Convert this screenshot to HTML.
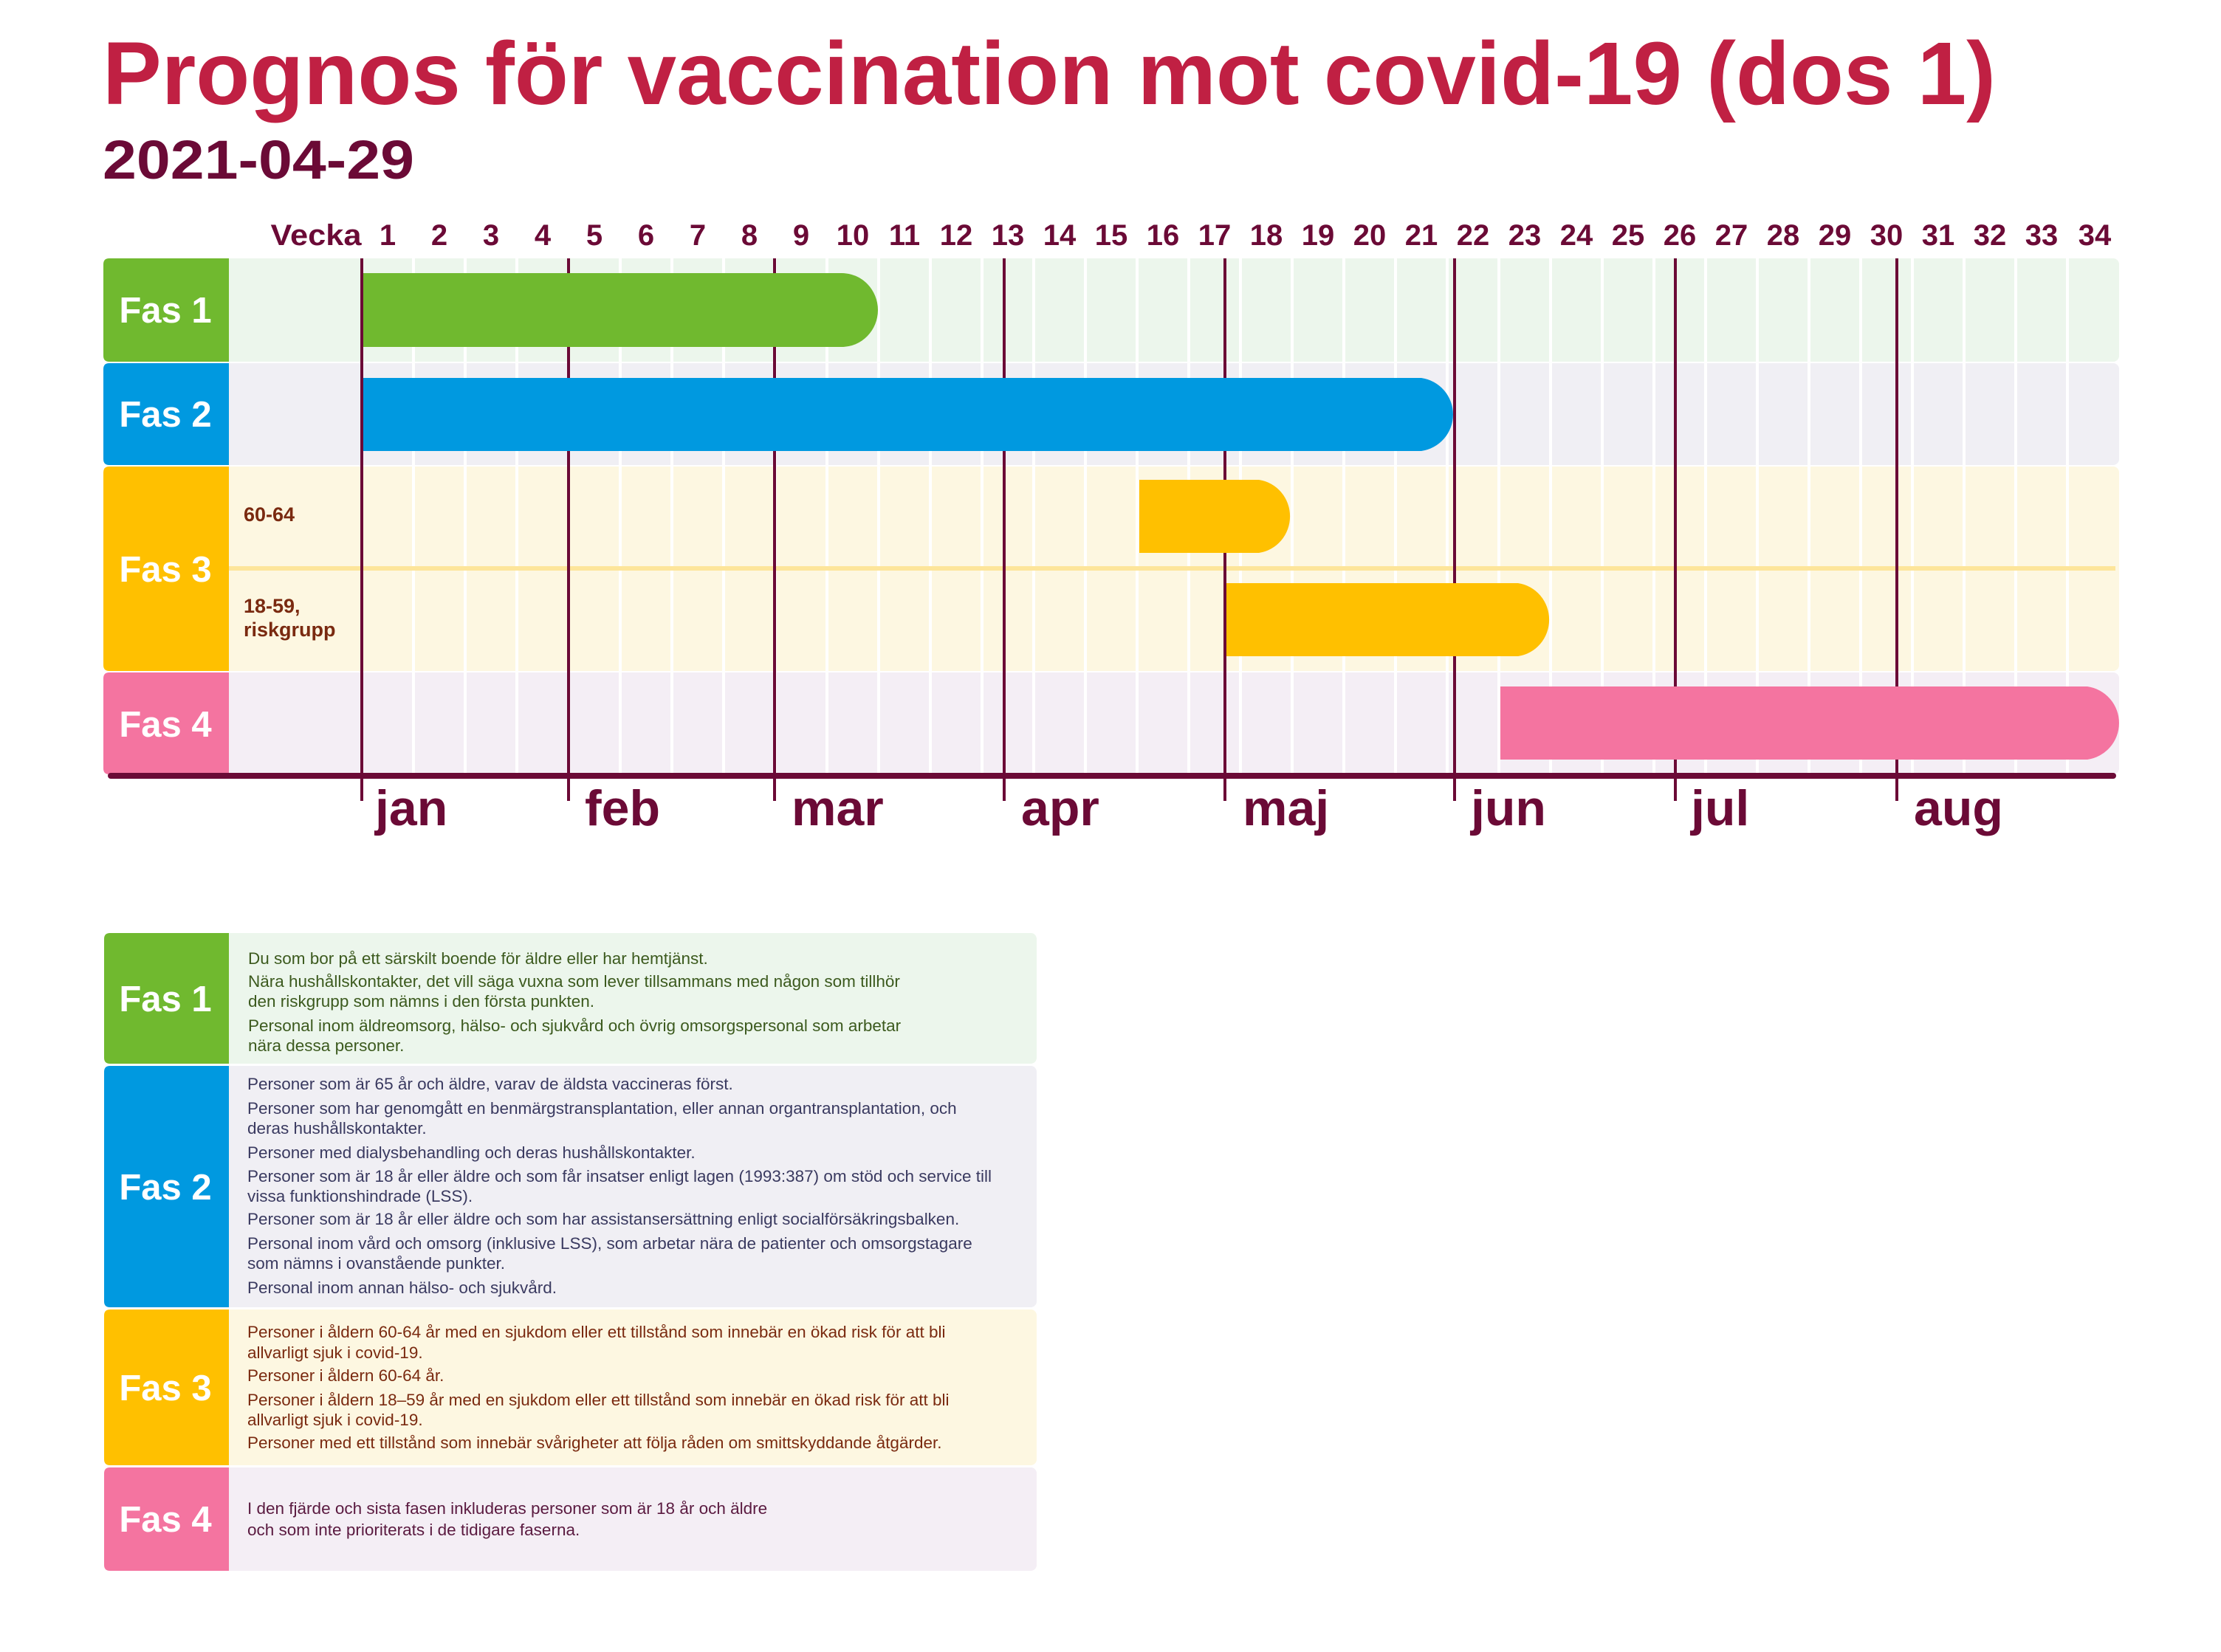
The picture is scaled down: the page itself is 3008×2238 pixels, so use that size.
<!DOCTYPE html>
<html><head><meta charset="utf-8"><style>
html,body{margin:0;padding:0;background:#fff;}
svg{display:block;}
</style></head><body>
<svg xmlns="http://www.w3.org/2000/svg" width="3008" height="2238" viewBox="0 0 3008 2238" font-family="Liberation Sans, sans-serif">
<rect width="3008" height="2238" fill="#fff"/>
<text x="139" y="141" font-size="121" font-weight="bold" fill="#c02043" textLength="2564" lengthAdjust="spacingAndGlyphs">Prognos för vaccination mot covid-19 (dos 1)</text>
<text x="139" y="242" font-size="74" font-weight="bold" fill="#6b0a36" textLength="422" lengthAdjust="spacingAndGlyphs">2021-04-29</text>

<g font-size="40" font-weight="bold" fill="#6b0a36" text-anchor="middle">
<text x="428" y="332" textLength="123" lengthAdjust="spacingAndGlyphs">Vecka</text>
<text x="525" y="332">1</text><text x="595" y="332">2</text><text x="665" y="332">3</text><text x="735" y="332">4</text><text x="805" y="332">5</text><text x="875" y="332">6</text><text x="945" y="332">7</text><text x="1015" y="332">8</text><text x="1085" y="332">9</text><text x="1155" y="332">10</text><text x="1225" y="332">11</text><text x="1295" y="332">12</text><text x="1365" y="332">13</text><text x="1435" y="332">14</text><text x="1505" y="332">15</text><text x="1575" y="332">16</text><text x="1645" y="332">17</text><text x="1715" y="332">18</text><text x="1785" y="332">19</text><text x="1855" y="332">20</text><text x="1925" y="332">21</text><text x="1995" y="332">22</text><text x="2065" y="332">23</text><text x="2135" y="332">24</text><text x="2205" y="332">25</text><text x="2275" y="332">26</text><text x="2345" y="332">27</text><text x="2415" y="332">28</text><text x="2485" y="332">29</text><text x="2555" y="332">30</text><text x="2625" y="332">31</text><text x="2695" y="332">32</text><text x="2765" y="332">33</text><text x="2837" y="332">34</text>
</g>

<rect x="140" y="350" width="2730" height="140" rx="8" fill="#ecf6ec"/>
<rect x="140" y="492" width="2730" height="138" rx="8" fill="#f0eff4"/>
<rect x="140" y="632" width="2730" height="277" rx="8" fill="#fdf7e1"/>
<rect x="140" y="911" width="2730" height="138" rx="8" fill="#f4eef5"/>

<g fill="#ffffff">
<rect x="558" y="350" width="4" height="699"/><rect x="628" y="350" width="4" height="699"/><rect x="698" y="350" width="4" height="699"/><rect x="768" y="350" width="4" height="699"/><rect x="838" y="350" width="4" height="699"/><rect x="908" y="350" width="4" height="699"/><rect x="978" y="350" width="4" height="699"/><rect x="1048" y="350" width="4" height="699"/><rect x="1118" y="350" width="4" height="699"/><rect x="1188" y="350" width="4" height="699"/><rect x="1258" y="350" width="4" height="699"/><rect x="1328" y="350" width="4" height="699"/><rect x="1398" y="350" width="4" height="699"/><rect x="1468" y="350" width="4" height="699"/><rect x="1538" y="350" width="4" height="699"/><rect x="1608" y="350" width="4" height="699"/><rect x="1678" y="350" width="4" height="699"/><rect x="1748" y="350" width="4" height="699"/><rect x="1818" y="350" width="4" height="699"/><rect x="1888" y="350" width="4" height="699"/><rect x="1958" y="350" width="4" height="699"/><rect x="2028" y="350" width="4" height="699"/><rect x="2098" y="350" width="4" height="699"/><rect x="2168" y="350" width="4" height="699"/><rect x="2238" y="350" width="4" height="699"/><rect x="2308" y="350" width="4" height="699"/><rect x="2378" y="350" width="4" height="699"/><rect x="2448" y="350" width="4" height="699"/><rect x="2518" y="350" width="4" height="699"/><rect x="2588" y="350" width="4" height="699"/><rect x="2658" y="350" width="4" height="699"/><rect x="2728" y="350" width="4" height="699"/><rect x="2798" y="350" width="4" height="699"/>
</g>
<rect x="310" y="767" width="2555" height="6" fill="#fde59a"/>

<path d="M148 350 H310 V490 H148 Q140 490 140 482 V358 Q140 350 148 350Z" fill="#70b92f"/>
<path d="M148 492 H310 V630 H148 Q140 630 140 622 V500 Q140 492 148 492Z" fill="#0099e0"/>
<path d="M148 632 H310 V909 H148 Q140 909 140 901 V640 Q140 632 148 632Z" fill="#ffc000"/>
<path d="M148 911 H310 V1049 H148 Q140 1049 140 1041 V919 Q140 911 148 911Z" fill="#f474a0"/>
<g font-size="49" font-weight="bold" fill="#fff" text-anchor="middle">
<text x="224" y="437">Fas 1</text>
<text x="224" y="578">Fas 2</text>
<text x="224" y="788">Fas 3</text>
<text x="224" y="998">Fas 4</text>
</g>
<g font-size="27" font-weight="bold" fill="#7a2a10">
<text x="330" y="706">60-64</text>
<text x="330" y="830">18-59,</text>
<text x="330" y="862">riskgrupp</text>
</g>

<g fill="#6b0a36">
<rect x="488" y="350" width="4" height="735"/>
<rect x="768" y="350" width="4" height="735"/>
<rect x="1047" y="350" width="4" height="735"/>
<rect x="1358" y="350" width="4" height="735"/>
<rect x="1657" y="350" width="4" height="735"/>
<rect x="1968" y="350" width="4" height="735"/>
<rect x="2267" y="350" width="4" height="735"/>
<rect x="2567" y="350" width="4" height="735"/>
</g>

<path d="M492 370 H1140 A49 50 0 0 1 1140 470 H492Z" fill="#70b92f"/>
<path d="M492 512 H1925 A50 50 0 0 1 1925 611 H492Z" fill="#0099e0"/>
<path d="M1543 650 H1705 A49 50 0 0 1 1705 749 H1543Z" fill="#ffc000"/>
<path d="M1661 790 H2056 A49 50 0 0 1 2056 889 H1661Z" fill="#ffc000"/>
<path d="M2032 930 H2827 A50 50 0 0 1 2827 1029 H2032Z" fill="#f474a0"/>

<rect x="146" y="1047" width="2720" height="8" rx="4" fill="#6b0a36"/>
<g font-size="68" font-weight="bold" fill="#6b0a36">
<text x="508" y="1118">jan</text>
<text x="792" y="1118">feb</text>
<text x="1072" y="1118">mar</text>
<text x="1383" y="1118">apr</text>
<text x="1683" y="1118">maj</text>
<text x="1992" y="1118">jun</text>
<text x="2290" y="1118">jul</text>
<text x="2592" y="1118">aug</text>
</g>

<rect x="141" y="1264" width="1263" height="177" rx="8" fill="#ecf6ec"/>
<rect x="141" y="1444" width="1263" height="327" rx="8" fill="#f0eff4"/>
<rect x="141" y="1774" width="1263" height="211" rx="8" fill="#fdf7e1"/>
<rect x="141" y="1988" width="1263" height="140" rx="8" fill="#f4eef5"/>
<path d="M149 1264 H310 V1441 H149 Q141 1441 141 1433 V1272 Q141 1264 149 1264Z" fill="#70b92f"/>
<path d="M149 1444 H310 V1771 H149 Q141 1771 141 1763 V1452 Q141 1444 149 1444Z" fill="#0099e0"/>
<path d="M149 1774 H310 V1985 H149 Q141 1985 141 1977 V1782 Q141 1774 149 1774Z" fill="#ffc000"/>
<path d="M149 1988 H310 V2128 H149 Q141 2128 141 2120 V1996 Q141 1988 149 1988Z" fill="#f474a0"/>
<g font-size="49" font-weight="bold" fill="#fff" text-anchor="middle">
<text x="224" y="1370">Fas 1</text>
<text x="224" y="1625">Fas 2</text>
<text x="224" y="1897">Fas 3</text>
<text x="224" y="2075">Fas 4</text>
</g>
<g font-size="22.5" fill="#3c5a1e">
<text x="336" y="1306">Du som bor på ett särskilt boende för äldre eller har hemtjänst.</text>
<text x="336" y="1337">Nära hushållskontakter, det vill säga vuxna som lever tillsammans med någon som tillhör</text>
<text x="336" y="1364">den riskgrupp som nämns i den första punkten.</text>
<text x="336" y="1397">Personal inom äldreomsorg, hälso- och sjukvård och övrig omsorgspersonal som arbetar</text>
<text x="336" y="1424">nära dessa personer.</text>
</g>
<g font-size="22.5" fill="#3a3a60">
<text x="335" y="1476">Personer som är 65 år och äldre, varav de äldsta vaccineras först.</text>
<text x="335" y="1509">Personer som har genomgått en benmärgstransplantation, eller annan organtransplantation, och</text>
<text x="335" y="1536">deras hushållskontakter.</text>
<text x="335" y="1569">Personer med dialysbehandling och deras hushållskontakter.</text>
<text x="335" y="1601">Personer som är 18 år eller äldre och som får insatser enligt lagen (1993:387) om stöd och service till</text>
<text x="335" y="1628">vissa funktionshindrade (LSS).</text>
<text x="335" y="1659">Personer som är 18 år eller äldre och som har assistansersättning enligt socialförsäkringsbalken.</text>
<text x="335" y="1692">Personal inom vård och omsorg (inklusive LSS), som arbetar nära de patienter och omsorgstagare</text>
<text x="335" y="1719">som nämns i ovanstående punkter.</text>
<text x="335" y="1752">Personal inom annan hälso- och sjukvård.</text>
</g>
<g font-size="22.5" fill="#7a2a10">
<text x="335" y="1812">Personer i åldern 60-64 år med en sjukdom eller ett tillstånd som innebär en ökad risk för att bli</text>
<text x="335" y="1840">allvarligt sjuk i covid-19.</text>
<text x="335" y="1871">Personer i åldern 60-64 år.</text>
<text x="335" y="1904">Personer i åldern 18–59 år med en sjukdom eller ett tillstånd som innebär en ökad risk för att bli</text>
<text x="335" y="1931">allvarligt sjuk i covid-19.</text>
<text x="335" y="1962">Personer med ett tillstånd som innebär svårigheter att följa råden om smittskyddande åtgärder.</text>
</g>
<g font-size="22.5" fill="#5a1a40">
<text x="335" y="2051">I den fjärde och sista fasen inkluderas personer som är 18 år och äldre</text>
<text x="335" y="2080">och som inte prioriterats i de tidigare faserna.</text>
</g>
</svg>
</body></html>
